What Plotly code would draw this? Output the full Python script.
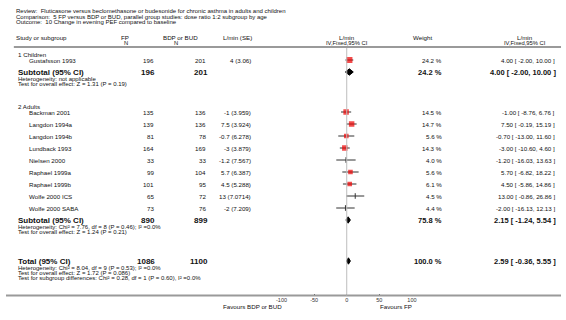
import plotly.graph_objects as go

# ---------------- data ----------------
title_lines = [
    "Review:  Fluticasone versus beclomethasone or budesonide for chronic asthma in adults and children",
    "Comparison:  5 FP versus BDP or BUD, parallel group studies: dose ratio 1:2 subgroup by age",
    "Outcome:  10 Change in evening PEF compared to baseline",
]

children_studies = ["Gustafsson 1993"]
children_fp_n = [196]
children_bdp_n = [201]
children_md = [4.0]
children_se_txt = ["4 (3.06)"]
children_weight = [24.2]
children_lo = [-2.00]
children_hi = [10.00]

adult_studies = ["Backman 2001", "Langdon 1994a", "Langdon 1994b", "Lundback 1993", "Nielsen 2000",
                 "Raphael 1999a", "Raphael 1999b", "Wolfe 2000 ICS", "Wolfe 2000 SABA"]
adult_fp_n = [135, 139, 81, 164, 33, 99, 101, 65, 73]
adult_bdp_n = [136, 136, 78, 169, 33, 104, 95, 72, 76]
adult_md = [-1.0, 7.5, -0.7, -3.0, -1.2, 5.7, 4.5, 13.0, -2.0]
adult_se_txt = ["-1 (3.959)", "7.5 (3.924)", "-0.7 (6.278)", "-3 (3.879)", "-1.2 (7.567)",
                "5.7 (6.387)", "4.5 (5.288)", "13 (7.0714)", "-2 (7.209)"]
adult_weight = [14.5, 14.7, 5.6, 14.3, 4.0, 5.6, 6.1, 4.5, 4.4]
adult_lo = [-8.76, -0.19, -13.00, -10.60, -16.03, -6.82, -5.86, -0.86, -16.13]
adult_hi = [6.76, 15.19, 11.60, 4.60, 13.63, 18.22, 14.86, 26.86, 12.13]

sub_children = dict(fp=196, bdp=201, weight=24.2, est=4.00, lo=-2.00, hi=10.00,
                    het="Heterogeneity: not applicable",
                    test="Test for overall effect: Z = 1.31 (P = 0.19)")
sub_adults = dict(fp=890, bdp=899, weight=75.8, est=2.15, lo=-1.24, hi=5.54,
                  het="Heterogeneity: Chi² = 7.76, df = 8 (P = 0.46); I² =0.0%",
                  test="Test for overall effect: Z = 1.24 (P = 0.21)")
total = dict(fp=1086, bdp=1100, weight=100.0, est=2.59, lo=-0.36, hi=5.55,
             het="Heterogeneity: Chi² = 8.04, df = 9 (P = 0.53); I² =0.0%",
             test="Test for overall effect: Z = 1.72 (P = 0.086)",
             sub="Test for subgroup differences: Chi² = 0.28, df = 1 (P = 0.60), I² =0.0%")

axis_ticks = [-100, -50, 0, 50, 100]
axis_ticktext = ["-100", "-50", "0", "50", "100"]
favours_left = "Favours BDP or BUD"
favours_right = "Favours FP"

# ---------------- layout helpers ----------------
W, H = 566, 320
FONT = "Liberation Sans, Arial, sans-serif"
TXT = "#111111"
PLOT_L, PLOT_R = 281, 414
AXIS_Y = 295.5
FS = 6.2      # normal text
FS_TITLE = 6.0
FS_HDR2 = 5.8
FS_NOTE = 6.0
FS_BOLD = 8.0

fig = go.Figure()
annotations = []
shapes = []


def ann(text, x, y, anchor="left", size=FS, bold=False, color=TXT):
    annotations.append(dict(
        text=text, x=x / W, y=y, xref="paper", yref="y",
        xanchor=anchor, yanchor="middle", showarrow=False, borderpad=0,
        font=dict(family=FONT, size=size, color=color, weight="bold" if bold else "normal"),
    ))


def fmt_ci(e, lo, hi):
    return f"{e:.2f} [ {lo:.2f}, {hi:.2f} ]"


# title
for i, t in enumerate(title_lines):
    ann(t, 9, 11.0 + 5.7 * i, size=FS_TITLE)

# headers
ann("Study or subgroup", 9, 37)
ann("FP", 121, 37, "center")
ann("N", 122, 43, "center", size=FS_HDR2)
ann("BDP or BUD", 178, 37, "center")
ann("N", 173, 43, "center", size=FS_HDR2)
ann("L/min (SE)", 236, 37, "center")
ann("L/min", 347.5, 37, "center")
ann("IV,Fixed,95% CI", 347.5, 43, "center", size=FS_HDR2)
ann("Weight", 425, 37, "center")
ann("L/min", 529, 37, "center")
ann("IV,Fixed,95% CI", 529, 43, "center", size=FS_HDR2)

shapes.append(dict(type="line", xref="paper", yref="y", x0=8 / W, x1=1, y0=47, y1=47,
                   line=dict(color="#9a9a9a", width=2)))
shapes.append(dict(type="line", xref="paper", yref="y", x0=0, x1=1, y0=AXIS_Y, y1=AXIS_Y,
                   line=dict(color="#9a9a9a", width=2)))
shapes.append(dict(type="line", xref="x", yref="y", x0=0, x1=0, y0=48, y1=AXIS_Y,
                   line=dict(color="#bdbdbd", width=1)))

# ---------------- rows ----------------
ROW = 12
study_rows = []   # (name, fp, bdp, md, se_txt, w, lo, hi, y)
diamonds = []


def add_group(label, label_y, names, fp, bdp, md, se, w, lo, hi):
    ann(label, 11, label_y)
    y0 = label_y + 6
    for i in range(len(names)):
        y = y0 + ROW * i
        study_rows.append((names[i], fp[i], bdp[i], md[i], se[i], w[i], lo[i], hi[i], y))
    return y0 + ROW * len(names)


def add_summary(label, sy, s, extra_lines):
    ann(label, 11, sy, size=FS_BOLD, bold=True)
    ann(str(s["fp"]), 153, sy, "right", size=FS_BOLD, bold=True)
    ann(str(s["bdp"]), 207, sy, "right", size=FS_BOLD, bold=True)
    ann(f"{s['weight']:.1f} %", 446, sy, "right", size=7.5, bold=True)
    ann(fmt_ci(s["est"], s["lo"], s["hi"]), 562, sy, "right", size=7.5, bold=True)
    for k, line in enumerate(extra_lines):
        ann(line, 11, sy + 6.5 + 5.2 * k, size=FS_NOTE)
    diamonds.append((s["est"], s["lo"], s["hi"], sy))


sy_c = add_group("1 Children", 54, children_studies, children_fp_n, children_bdp_n, children_md,
                 children_se_txt, children_weight, children_lo, children_hi)
add_summary("Subtotal (95% CI)", sy_c, sub_children, [sub_children["het"], sub_children["test"]])

sy_a = add_group("2 Adults", 106, adult_studies, adult_fp_n, adult_bdp_n, adult_md,
                 adult_se_txt, adult_weight, adult_lo, adult_hi)
add_summary("Subtotal (95% CI)", sy_a, sub_adults, [sub_adults["het"], sub_adults["test"]])

add_summary("Total (95% CI)", sy_a + 41, total, [total["het"], total["test"], total["sub"]])

# study text
for (name, fp, bdp, md, se, w, lo, hi, y) in study_rows:
    ann(name, 22, y)
    ann(str(fp), 152, y, "right")
    ann(str(bdp), 205, y, "right")
    ann(se, 251, y, "right")
    ann(f"{w:.1f} %", 446, y, "right")
    ann(fmt_ci(md, lo, hi), 561, y, "right")

# CI lines
lx, ly = [], []
for (name, fp, bdp, md, se, w, lo, hi, y) in study_rows:
    lx += [lo, hi, None]
    ly += [y, y, None]
fig.add_trace(go.Scatter(x=lx, y=ly, mode="lines", line=dict(color="#333333", width=1),
                         hoverinfo="skip", showlegend=False))

# boxes
big = [r for r in study_rows if r[5] >= 5]
small = [r for r in study_rows if r[5] < 5]
fig.add_trace(go.Scatter(
    x=[r[3] for r in big], y=[r[8] for r in big], mode="markers",
    marker=dict(symbol="square", color="#ee0000", size=[3.2 + 0.6 * (r[5] ** 0.5) for r in big],
                line=dict(width=0)),
    showlegend=False, hoverinfo="skip"))
fig.add_trace(go.Scatter(
    x=[r[3] for r in small], y=[r[8] for r in small], mode="markers",
    marker=dict(symbol="line-ns-open", color="#333333", size=4, line=dict(width=1, color="#333333")),
    showlegend=False, hoverinfo="skip"))

# diamonds
for (e, lo, hi, y) in diamonds:
    fig.add_trace(go.Scatter(
        x=[lo, e, hi, e, lo], y=[y, y - 3.2, y, y + 3.2, y], mode="lines", fill="toself",
        fillcolor="#000000", line=dict(color="#000000", width=1),
        showlegend=False, hoverinfo="skip"))

# favours labels
ann(favours_left, 282, 306.5, "right", size=FS)
ann(favours_right, 380, 306.5, "left", size=FS)

fig.update_layout(
    width=W, height=H, margin=dict(l=0, r=0, t=0, b=0),
    paper_bgcolor="white", plot_bgcolor="white",
    annotations=annotations, shapes=shapes,
    xaxis=dict(domain=[PLOT_L / W, PLOT_R / W], range=[-100, 100], anchor="free",
               position=(H - AXIS_Y) / H, showgrid=False, zeroline=False, showline=False,
               tickvals=axis_ticks, ticktext=axis_ticktext, ticks="inside", ticklen=2,
               tickcolor="#555555", tickfont=dict(family=FONT, size=5.5, color="#333333")),
    yaxis=dict(domain=[0, 1], range=[H, 0], visible=False),
)

fig.write_html("out.html", config={"displayModeBar": False},
               post_script="document.body.style.margin='0';")
